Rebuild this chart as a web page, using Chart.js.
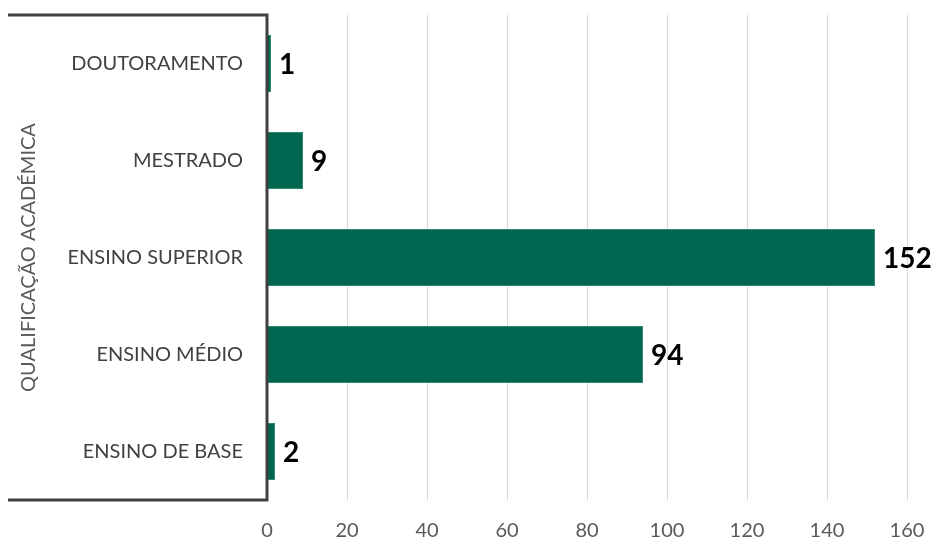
<!DOCTYPE html>
<html>
<head>
<meta charset="utf-8">
<script src="https://cdn.jsdelivr.net/npm/chart.js@4"></script>
<style>
  html, body { margin: 0; padding: 0; background: #fff; }
  #wrap { width: 931px; height: 541px; }
</style>
</head>
<body>
<div id="wrap"><canvas id="my-chart"></canvas></div>
<script>
'use strict';

let categories = ['DOUTORAMENTO', 'MESTRADO', 'ENSINO SUPERIOR', 'ENSINO MÉDIO', 'ENSINO DE BASE'];
let counts = [1, 9, 152, 94, 2];
let xTicks = [0, 20, 40, 60, 80, 100, 120, 140, 160];
let axisTitle = 'QUALIFICAÇÃO ACADÉMICA';

let fontFam = 'Lato, "Open Sans", sans-serif';
let canvasElem = document.getElementById('my-chart');

// bold value next to the end of each bar
let valueLabels = {
  id: 'valueLabels',
  afterDatasetsDraw(chart) {
    let ctx = chart.ctx;
    let meta = chart.getDatasetMeta(0);
    ctx.save();
    ctx.font = 'bold 28px ' + fontFam;
    ctx.fillStyle = '#000';
    ctx.textAlign = 'left';
    ctx.textBaseline = 'middle';
    meta.data.forEach((bar, i) => {
      ctx.fillText(String(counts[i]), bar.x + 8, bar.y + 1);
    });
    ctx.restore();
  }
};

// the dark frame lines around the category labels
let frameLines = {
  id: 'frameLines',
  afterDraw(chart) {
    let ctx = chart.ctx;
    let a = chart.chartArea;
    ctx.save();
    ctx.strokeStyle = '#404040';
    ctx.lineWidth = 3;
    ctx.beginPath();
    ctx.moveTo(8, a.top);
    ctx.lineTo(a.left, a.top);
    ctx.lineTo(a.left, a.bottom);
    ctx.lineTo(8, a.bottom);
    ctx.stroke();
    ctx.restore();
  }
};

function renderChart() {
  let chartObj = {
    type: 'bar',
    data: {
      labels: categories,
      datasets: [{
        data: counts,
        backgroundColor: '#00664f',
        borderColor: '#2f8a72',
        borderWidth: 1,
        categoryPercentage: 1,
        barPercentage: 0.59
      }]
    },
    options: {
      indexAxis: 'y',
      responsive: true,
      maintainAspectRatio: false,
      animation: false,
      layout: { padding: { top: 15, left: 17, right: 24, bottom: 0 } },
      scales: {
        x: {
          min: 0,
          max: 160,
          afterBuildTicks: (scale) => { scale.ticks = xTicks.map(v => ({ value: v })); },
          afterFit: (scale) => {
            scale.paddingLeft = 0;
            scale.paddingRight = 0;
            scale.height = 41;
          },
          grid: { color: '#d9d9d9', lineWidth: 1, drawTicks: false },
          border: { display: false },
          ticks: {
            color: '#595959',
            padding: 19,
            maxRotation: 0,
            font: { family: fontFam, size: 20 }
          }
        },
        y: {
          afterFit: (scale) => {
            scale.width = 250;
            scale.paddingTop = 0;
            scale.paddingBottom = 0;
          },
          grid: { display: false, drawTicks: false },
          border: { display: false },
          ticks: {
            color: '#404040',
            padding: 24,
            font: { family: fontFam, size: 20 }
          },
          title: {
            display: true,
            text: axisTitle,
            color: '#595959',
            padding: 0,
            font: { family: fontFam, size: 20 }
          }
        }
      },
      plugins: {
        legend: { display: false },
        tooltip: { enabled: false }
      }
    },
    plugins: [valueLabels, frameLines]
  };

  new Chart(canvasElem, chartObj); //eslint-disable-line
}

renderChart();
</script>
</body>
</html>
